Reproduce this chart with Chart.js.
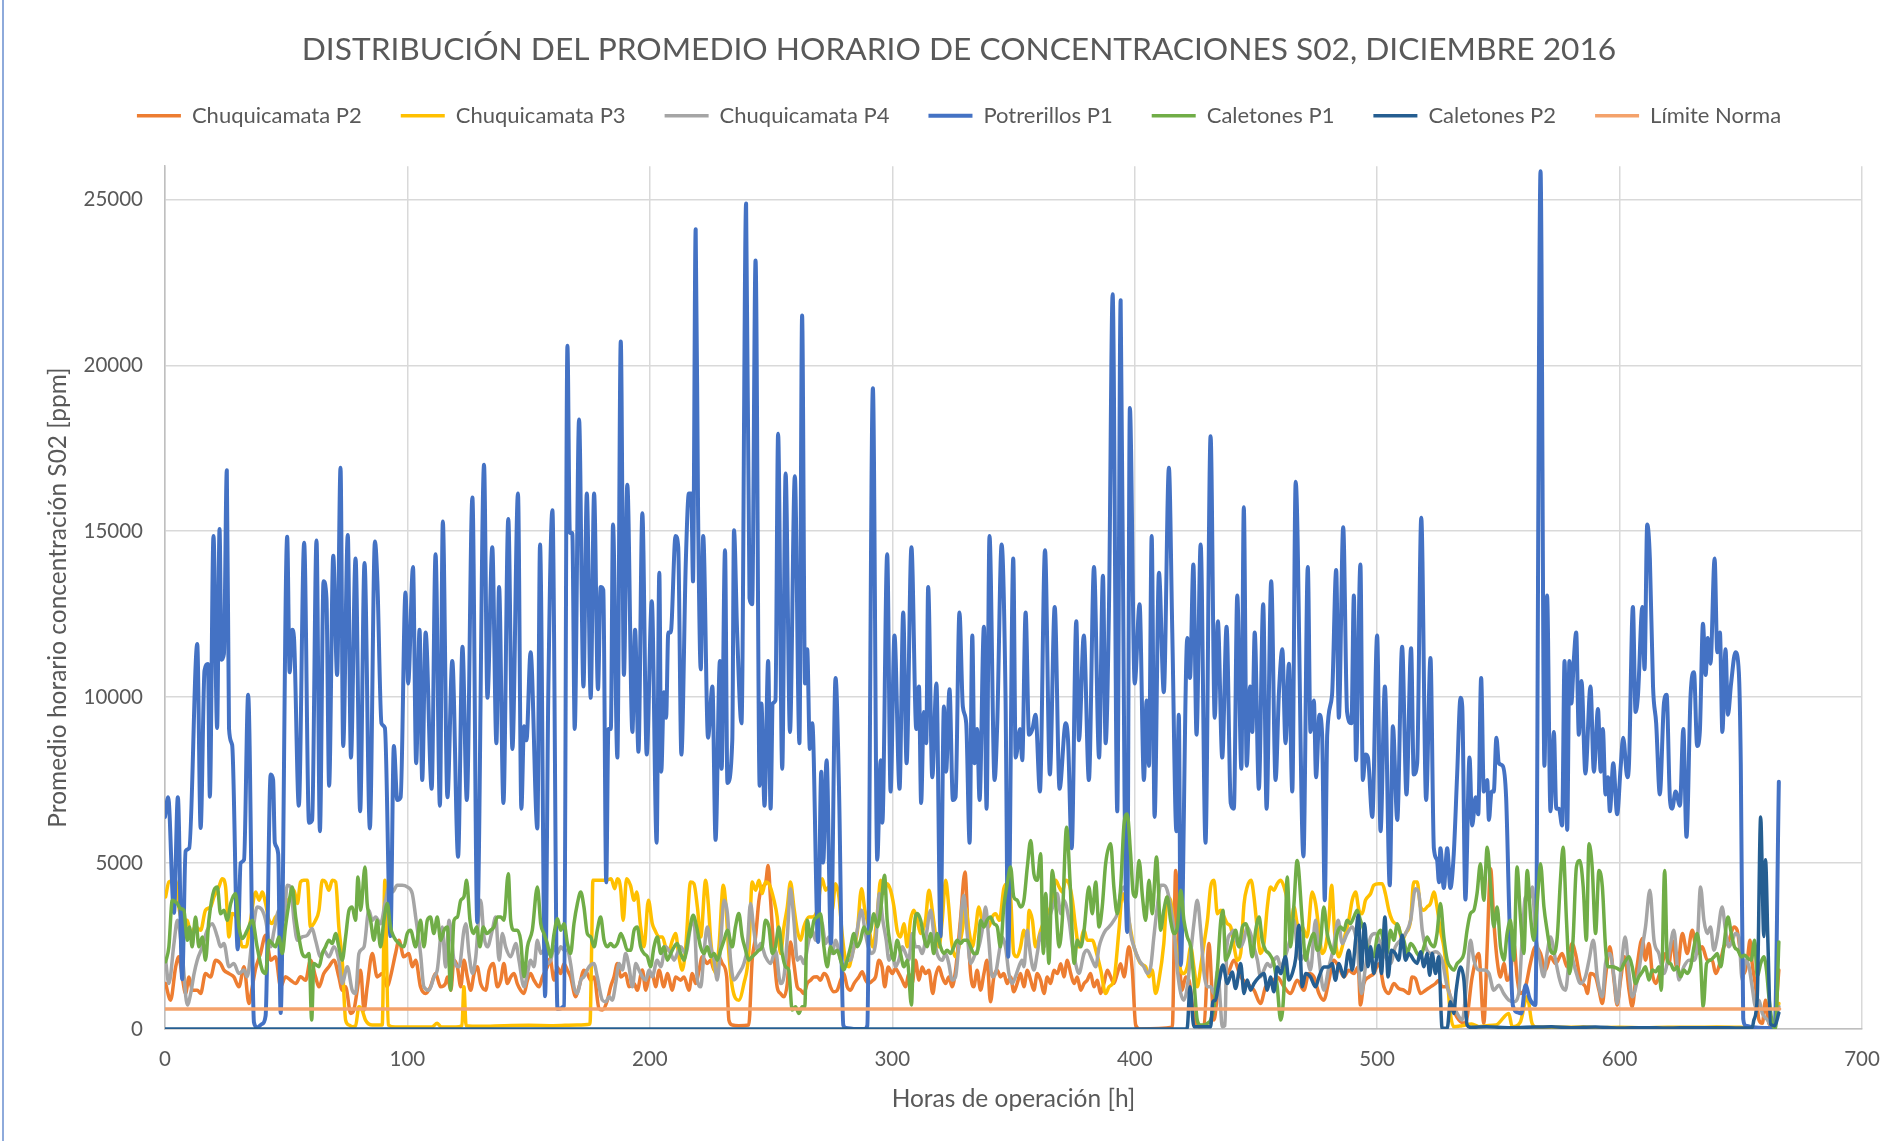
<!DOCTYPE html>
<html lang="es">
<head>
<meta charset="utf-8">
<title>Distribución del promedio horario de concentraciones S02</title>
<script src="https://cdn.jsdelivr.net/npm/chart.js@4/dist/chart.umd.min.js"></script>
<style>
  html, body { margin: 0; padding: 0; background: #ffffff; }
  canvas { display: block; background: #ffffff; }
</style>
</head>
<body>
<canvas id="grafico" width="1898" height="1141"></canvas>
<script>
// Valores: cada punto es [hora de operacion, ppm]
var chuquicamataP2 = [
  [0.25,1370],[2.3,870],[4.4,1875],[5.7,2175],[7.1,1570],[8.5,1070],[9.9,1570],[11.2,1170],[13.3,1170],[14.7,1070],[16.7,1675],[18.8,1570],[20.9,2075],[22.9,1975],[24.3,1775],[26.4,1670],[28.4,1570],[30.5,1270],[32.6,1875],[34.6,770],[36,1270],[37.4,1825],[39.4,2275],[41.5,2825],[43.6,2075],[45.6,2175],[47.7,1270],[49.7,1575],[51.8,1470],[53.9,1370],[55.9,1575],[58,1470],[60,2075],[62.1,1575],[63.5,1270],[65.5,1670],[67.6,1875],[69.7,2075],[71.7,1570],[73.1,1170],[74.5,1270],[76.6,470],[77.9,570],[79.3,1170],[80.7,1770],[82.1,570],[83.4,1270],[85.5,2275],[87.5,1570],[89.6,1670],[91.7,1270],[93,1570],[95.1,2275],[96.5,2675],[98.5,2175],[100.6,2275],[102,1875],[103.4,2075],[105.4,1270],[107.5,1070],[109.5,1270],[111.6,1670],[113.7,1270],[115.7,1370],
  [116.5,1570],[117.9,1170],[119.2,2075],[120.6,1875],[122,1270],[123.3,2075],[124.7,1570],[126.1,1170],[127.5,1670],[128.8,1875],[130.2,1370],[132.3,1170],[133.7,1770],[135.4,1975],[137.1,1270],[138.5,1470],[139.8,1975],[141.2,1370],[142.6,1570],[144,1670],[145.3,1370],[146.7,1170],[148.1,1070],[149.5,1470],[150.8,1670],[152.2,1470],[154.3,1270],[155.7,1570],[157.7,1870],[158.8,2125],[160.5,1470],[161.8,1870],[163.2,1670],[164.6,1970],[166,1770],[167.3,1570],[169.4,970],[170.8,1270],[172.8,1770],[174.2,1670],[175.6,1470],[177,1570],[179,620],[180.4,570],[182.5,870],[183.8,1270],[185.2,1570],[186.6,1975],[188,1570],[190,1670],[191.4,1270],[193.5,1370],[194.8,1170],[196.9,1775],[198.3,1170],[199.7,1570],[201,1670],[202.4,1270],[203.8,1770],[205.8,1270],[207.2,1670],[209.3,1170],[210.6,1570],[212.7,1470],[214.1,1570],[216.1,1170],[217.5,1670],[218.9,1370],[220.3,1770],[221.6,2175],[223.7,1975],[225.1,2075],[226.5,1770],[228.5,2175],[229.9,1970],[231.7,1570],[232.6,270],[234,120],
  [236.7,100],[240.8,120],[242.2,2075],[243.6,2775],[245,3880],[246.3,4280],[247.7,4380],[248.8,4930],[249.8,3880],[251.2,2275],[252.5,1270],[253.9,1070],[255.3,970],[256.7,1370],[258,2625],[259.4,1975],[260.8,1270],[262.2,1170],[263.5,1070],[264.9,1370],[266.3,1470],[267.7,1570],[269,1575],[270.4,1470],[271.8,1675],[273.2,1570],[274.5,1270],[275.9,1120],[277.3,1170],[278.7,1470],[280,1670],[281.4,1270],[282.8,1170],[284.2,1370],[286.2,1570],[287.6,1725],[289,1470],[290.3,1370],[292,1470],[293.1,1570],[294.5,2075],[295.8,1870],[296.9,1270],[298.3,1870],[300,1670],[301.3,1825],[302.7,1670],[304.1,1470],[305.5,1270],[306.8,1670],[308.2,1370],[309.6,2075],[311,1470],[312.3,1870],[313.7,1670],[315.1,1770],[316.7,1070],[317.8,1570],[319.2,1870],[320.6,1570],[322,1370],[323.3,1570],[324.7,1270],[326.1,1770],[328.1,3275],[330,4730],[331.3,2875],[332.3,1670],[333.6,1270],[335,1770],[336.4,1170],[337.8,1670],[339.1,2075],[340.5,820],[341.9,1570],[343.3,1770],[344.6,1570],[346,1670],[347.4,1370],[348.8,1570],[350.1,1120],[351.5,1370],
  [352.9,1670],[354.3,1270],[355.7,1770],[357.1,1470],[358.4,1170],[359.8,1670],[361.2,1470],[362.6,1070],[363.9,1570],[365.3,1370],[366.7,1770],[368.1,1670],[369.5,1970],[370.8,1570],[372.2,2070],[373.6,1670],[375,1370],[376.3,1570],[377.7,1170],[379.1,1370],[380.4,1470],[381.8,1670],[383.2,1270],[384.6,1470],[385.9,1070],[387.3,1370],[388.7,1770],[390.1,1570],[391.4,1370],[392.8,1670],[394.2,1970],[395.6,1570],[397.6,2475],[399,1770],[400.4,120],[402.4,0],[415.5,50],[416.9,4780],[418.3,2270],[419.6,1170],[421,1570],[422.4,1470],[424.4,370],[426.5,70],[428.6,100],[430.6,2575],[432.7,270],[434.3,1170],[436.1,1875],[438.2,1670],[440.9,2075],[443.7,1570],[446.4,1370],[449.2,1170],[451.9,770],[454,1270],[456.1,1370],[458.8,1570],[461.6,1270],[464.3,1070],[467,1470],
  [469.8,1170],[471.8,1670],[473.9,1570],[476,1070],[478,870],[480.1,1470],[482.1,2075],[484.2,1875],[486.3,1570],[488.3,1770],[490.4,1670],[492.2,1870],[493.1,720],[494.5,1370],[496.6,1570],[498.6,1670],[500.7,1970],[502.8,1270],[504.8,1070],[506.9,1370],[508.9,1220],[511,1170],[513.1,1070],[514.4,1570],[515.8,1520],[517.9,1070],[520,1170],[522,1270],[524.1,1370],[525.4,1470],[526.8,1270],[528.9,1270],[531,670],[533.7,270],[536.4,170],[539.2,1570],[541.9,2275],[544,170],[545.4,2475],[546.8,4830],[548.1,3275],[549.5,2075],[550.9,1570],[552.3,1975],[553.6,1470],[555,1670],[556.4,2575],[557.7,1570],[559.1,1070],[561.2,1270],[563.2,1975],[565.3,2475],[567.4,2275],[569.4,1770],[571.5,2175],[573.6,1975],[576.3,2275],[578.4,1870],[580.4,2575],[581.8,2275],[583.9,1470],[585.9,1270],
  [586.7,1070],[588,1670],[590.1,1570],[591.5,1170],[592.9,770],[594.2,1570],[596,2475],[597.7,1470],[599,720],[600.4,1470],[602.1,2175],[603.9,1170],[605.2,670],[607,1770],[609.4,2725],[610.7,2075],[612.1,2575],[613.5,1670],[614.9,1370],[616.9,1770],[619,2275],[620.4,1970],[621.7,2675],[623.8,1770],[625.9,2875],[627.9,2275],[630,2975],[632,2275],[634.1,2475],[636.2,2075],[638.2,2075],[639.6,1675],[641.7,2075],[643,2475],[645.1,2675],[647.2,3075],[648.5,2975],[649.9,2275],[651.3,1670],[652.7,2075],[653.8,2675],[654.7,1970],[656.1,1270],[657.5,270],[658.9,170],[660.2,870],[661.6,170],[663.7,70],[665.7,1775]
];

var chuquicamataP3 = [
  [0.25,3980],[1.6,4430],[4.4,4480],[5.7,3680],[7.1,3280],[9.2,3280],[10.6,2875],[12.6,3080],[14.7,2975],[16.7,3580],[18.8,3680],[20.2,3980],[22.2,4280],[23.6,4530],[25,4280],[26.4,2775],[27.7,3480],[29.8,3280],[31.9,2475],[33.5,2475],[35.3,3280],[37.4,4130],[38.8,3880],[40.1,4130],[41.5,3780],[42.9,3280],[44.2,3180],[45.6,3380],[47.7,3480],[49.7,3780],[51.8,3980],[53.2,4180],[54.6,3780],[55.9,4430],[57.3,4480],[58.7,4480],[60,3080],[62.1,3280],[63.5,3580],[64.9,4480],[66.2,4430],[67.6,4180],[69,4480],[70.4,4430],[71.7,3080],[73.1,2075],[74.5,270],[75.9,120],[77.2,70],[78.6,90],[80,670],[81.3,570],[82.7,270],[85.5,120],[89.6,120],[90.7,4480],[92.1,120],[95,60],[100,60],[105,60],[110,60],[112.3,170],[114,60],
  [116,60],[120,60],[122.5,100],[123.3,1270],[124.2,100],[130,80],[140,100],[150,110],[160,100],[170,120],[175.3,150],[176,2500],[176.5,4480],[180,4480],[182,4480],[184,4530],[185.5,4230],[186.6,4530],[187.3,4480],[188,4180],[189,3275],[190.4,4530],[192,4330],[193.5,3880],[194.6,4130],[196.2,3075],[197.6,2475],[199.4,3880],[201,3175],[202.1,2975],[203.8,2775],[205.2,2775],[206.5,2475],[207.9,2375],[209.3,2675],[210.6,2875],[212,2175],[213.4,1775],[214.8,2475],[216.8,4430],[218.2,4380],[219.6,3680],[221,2775],[223,4480],[224.1,3780],[225.1,2675],[227.1,1675],[228.5,2475],[230.3,4330],[231.3,3780],[232.6,2275],[234,1270],
  [236.7,870],[238.8,1370],[240.8,2275],[242.2,4430],[243.6,4180],[245,4480],[246.3,4080],[247.7,4430],[249.1,4380],[251.2,3880],[252.5,3380],[253.9,2275],[255.3,3075],[256.7,3680],[258,4430],[259.4,3680],[260.8,2975],[262.2,2675],[263.5,3075],[265.6,3375],[267,3375],[269,3580],[271.1,4530],[272.5,4180],[273.8,4280],[275.2,3580],[276.6,4380],[278,3980],[279.3,2875],[280.7,2075],[282.1,1875],[283.5,2275],[285.5,2875],[287.3,4230],[288.7,3580],[290.3,3075],[292,2475],[293.8,3475],[295.2,4480],[296.5,4080],[297.9,4380],[299.3,4180],[300.7,3680],[302,2975],[303.4,2775],[304.8,3175],[306.2,2475],[307.5,3275],[308.9,3580],[310.3,3275],[311.7,2875],[313.7,3275],[315.1,4180],[316.5,3580],[317.8,2875],[319.2,2475],[320.6,3275],[322,4480],[323.3,3680],[324.4,2675],[326.1,2175],[327.5,2475],[328.9,2975],[330.2,3680],[331.6,2975],[333,2475],[334.3,2975],[335.7,3680],[337.1,3275],[338.5,3275],[339.8,3075],[341.2,3375],[342.6,3475],[344.2,3275],[346,4230],[347.4,4380],[348.8,3980],[350.1,2275],[351.5,2175],
  [352.9,2475],[354.3,2975],[355.7,2675],[356.4,3580],[357.8,3275],[359.1,2475],[361.2,2975],[363.3,3375],[365.3,3680],[367.4,4480],[368.8,4280],[370.1,4130],[371.5,4480],[372.9,4380],[374.3,3880],[375.6,3075],[377,2475],[379.1,2975],[380.4,2675],[382.5,2675],[384.3,2275],[386,1775],[388,1070],[389.4,1270],[391.4,1475],[393.5,2975],[394.9,4080],[396.3,3780],[397.6,3275],[399.7,2475],[401.1,2175],[402.4,1975],[404.5,1875],[405.9,1575],[407.2,1775],[408.6,1070],[410,1475],[412,2575],[413.4,3980],[414.8,3880],[416.2,2975],[417.6,2275],[418.9,1775],[420.3,1670],[421.7,1875],[423.1,2475],[424.4,1875],[425.8,1270],[427.2,1870],[428.6,2575],[430,3275],[431.3,4280],[432.7,4480],[434.1,3475],[435.5,3575],[436.9,3375],[438.2,3175],[439.6,3075],[441,2475],[442.3,2075],[443.7,2275],[445.1,3775],[446.4,4280],[448,4480],[449.2,3980],[450.6,2975],[451.9,2275],[453.3,2575],[454.7,3680],[456,4280],[457.4,4180],[458.8,4380],[460.2,4480],[461.6,4280],[462.9,3880],[464.3,3075],[465.7,3675],[467,3175],[468.4,2975],
  [469.1,3075],[471.1,2775],[473.2,4130],[474.6,3780],[476,2975],[477.3,2275],[478.7,2475],[480.1,3275],[481.2,4330],[482.5,2875],[484.2,2175],[485.6,2475],[486.9,2875],[488.3,3275],[489.7,3880],[491.1,4130],[492.5,3580],[493.8,3475],[495.2,3880],[497.3,4080],[498.6,4330],[500.7,4380],[502.1,4380],[503.4,4080],[504.8,3580],[506.2,3275],[507.5,3175],[508.9,3075],[510.3,2675],[511.7,2875],[513.8,3275],[515.1,4430],[516.5,4430],[517.9,3680],[519.3,3580],[520.6,3680],[522,3780],[523.4,4130],[524.7,3680],[526.1,2975],[527.5,2475],[528.9,1575],[530.2,470],[531.6,70],[535,100],[539,150],[542,70],[545,100],[549,120],[554.3,470],[555.7,70],[559,200],[561.9,970],[563.9,170],[566,50],[575,50],[585,60],
  [590,40],[600,50],[610,40],[620,50],[630,50],[640,60],[650,50],[658,40],[663,30],[665.7,770]
];

var chuquicamataP4 = [
  [0.25,2075],[1.6,1370],[3.7,2575],[5.1,3280],[7.1,2275],[9.2,720],[10.6,1070],[12,1670],[13.3,2075],[15.4,2475],[17.4,2975],[19.5,3175],[21.6,2775],[22.9,2475],[24.3,2575],[26.4,1875],[28.4,1975],[30.5,1670],[32.6,1775],[33.9,1575],[36,2775],[38,3680],[40.1,3580],[41.5,3280],[43.6,2475],[45,2975],[47,3580],[49,3280],[50.4,4330],[51.8,4280],[53.2,3280],[54.6,2675],[56.6,2775],[58.7,2825],[60.7,3025],[62.1,2675],[64.2,2175],[65.5,2375],[67.6,2175],[69.7,2475],[71.7,2075],[73.1,1370],[75.2,1875],[77.2,1170],[78.6,1070],[80,2275],[82.1,2475],[84.1,3580],[85.5,3275],[86.9,3375],[88.9,3175],[91,3880],[92.4,4280],[93.8,4130],[95.8,4330],[97.8,4330],[99.9,4280],[102,4080],[103.4,3375],[105.4,2275],[106.8,1270],[108.9,1170],[111,1575],[112.3,1775],[114.4,3075],[115.7,1870],
  [117.2,3275],[119.2,2075],[121.3,1875],[123.3,2975],[124.1,3175],[125.4,2275],[126.8,1675],[128.2,2175],[130.2,3880],[131.6,2775],[133,2475],[135,2975],[136.4,3375],[137.8,2075],[139.2,2875],[140.5,2475],[142.6,2175],[144.7,2575],[146,2075],[148.1,1270],[149.5,1675],[150.8,2075],[152.2,1875],[153.6,2675],[155,2275],[156.3,2375],[157.7,1975],[159.1,2075],[160.5,2475],[161.9,2275],[163.2,2475],[164.6,2375],[166,2375],[167.3,1975],[168.7,1270],[170.1,1070],[171.5,1475],[172.8,1575],[174.9,1875],[176.9,1975],[178.3,1575],[180.4,870],[181.8,820],[183.2,970],[184.5,870],[185.9,1370],[187.3,1975],[188.7,1775],[190,2275],[191.4,1875],[192.8,1270],[194.2,1975],[195.5,1775],[196.9,1575],[198.3,1475],[199.7,1775],[201,1575],[203,2075],[204.5,1875],[206.5,2475],[208.6,2275],[210,2075],[211.3,2275],[212.7,2475],[214.8,2275],[216.8,3075],[218.2,3275],[219.6,1475],[221,1270],[222.3,2275],[223.7,3075],[225.1,2475],[226.5,2075],[227.8,1475],[229.2,2575],[230.6,3880],[232,3475],[233.3,2075],[234.7,1475],
  [236.7,1675],[238.8,1975],[240.2,2475],[241.5,3780],[242.9,2975],[244.3,2375],[245.7,2575],[247.7,2175],[249.8,1975],[251.8,2375],[253.9,1370],[255.3,1575],[256.7,2775],[258,4230],[259.4,3275],[260.8,2075],[262.2,2175],[263.5,1975],[265.6,2675],[267,2975],[268.3,2675],[269.7,3275],[271.1,3175],[272.5,2575],[273.8,2775],[275.2,2275],[276.6,2675],[278.7,2075],[280,1875],[281.4,2075],[282.8,2075],[284.2,2475],[285.5,2975],[287.3,3580],[288.7,2975],[290.1,2475],[291.4,2275],[293.1,2575],[294.7,4080],[296.1,3275],[297.5,2675],[298.6,2075],[300,2275],[301.3,1875],[302.7,2075],[304.1,2475],[305.5,2275],[306.8,2075],[308.2,2875],[309.6,2475],[311,2475],[312.3,2275],[313.7,2675],[315.8,3580],[317.1,2875],[318.5,2275],[320.6,2075],[322,2275],[323.3,1975],[324.7,1475],[326.1,1575],[327.5,2575],[329.5,4030],[330.9,2875],[332.3,1975],[334.3,2275],[335.7,2475],[337.1,2975],[338.5,3680],[339.8,2675],[341.2,1575],[342.6,1675],[344,2275],[345.3,2775],[346.7,2475],[348.1,1675],[349.5,1370],[350.8,1575],[352.2,1875],
  [353.5,2075],[354.3,1875],[355.7,2975],[356.4,2575],[357.1,2175],[358.4,1775],[359.8,2275],[361.2,2875],[362.6,2475],[363.9,2975],[365.3,3475],[366.7,3780],[368,4080],[369.5,3475],[370.8,3880],[372.9,3275],[374.3,2475],[375.6,1975],[377,1675],[379.1,2275],[380.4,2375],[382.5,2075],[383.9,1875],[385.3,2475],[386.6,2775],[388,2975],[389.4,3075],[391.4,3275],[392.8,3475],[394.2,4080],[395.6,4280],[396.9,3880],[398.3,2875],[399.7,2475],[401.8,2075],[403.8,1875],[405.2,1675],[406.6,1875],[407.9,2775],[409.3,3680],[410.7,4330],[412,4330],[413.4,4180],[414.8,3680],[416.2,2975],[417.6,1775],[419,1070],[420.3,870],[421.7,1270],[423.1,2275],[424.4,3175],[425.8,3880],[427.2,2975],[428.6,1675],[430,1270],[431.3,1270],[432.7,1070],[434.3,1775],[435.3,800],[436.1,70],[437.2,100],[438,2475],[439.6,2875],[440.9,2975],[442.3,2575],[443.7,2475],[445,2675],[446.4,3075],[447.8,2875],[449.2,2475],[450.6,2075],[451.9,1575],[453.3,1775],[454.7,1975],[456,1875],[457.4,2075],[458.8,2175],[460.2,1875],[461.6,2075],[462.9,2375],[464.3,2775],[465.7,3275],[467,2475],[468.4,2075],
  [470.5,2275],[472.5,1775],[474.6,3275],[476,2175],[478,1170],[480.1,1875],[482.1,2475],[483.9,3275],[485.6,2575],[487.6,2875],[489.7,3075],[491.8,2475],[493.5,1070],[495.2,1875],[497.3,2775],[499.3,2875],[501.4,2575],[503.4,2175],[505.5,1975],[507.5,2475],[509.6,2675],[511.7,2875],[513.8,3275],[515.8,4230],[517.2,4080],[518.6,2975],[520,2475],[522,2275],[524.1,2325],[525.4,2275],[526.8,2075],[528.9,1270],[530.9,870],[533,470],[535.1,270],[537.1,1575],[538.5,2675],[539.9,2075],[541.9,1775],[544,1775],[546.1,1675],[548.1,1170],[550.2,1320],[552.2,1070],[554.3,870],[556.4,820],[558.4,1070],[559.8,2675],[561.2,3980],[562.6,3880],[564,4280],[565.3,2875],[566.7,2275],[568.7,1575],[570.1,2275],[571.5,2775],[573.6,2075],[575,1575],[576.3,1270],[577.7,1170],[579.7,2275],[581.8,1775],[583.9,1370],[585.9,1575],
  [587.4,2075],[589.2,2675],[590.8,1575],[592.9,970],[594.2,1975],[596,2275],[597.7,1575],[599,770],[600.7,1875],[602.3,2775],[603.9,1675],[605.2,970],[607.3,1475],[609.4,2475],[610.7,3075],[612.5,4180],[614.2,2675],[616.2,2275],[618.3,1675],[620.4,2275],[622.4,2975],[624.5,1475],[626.5,1875],[628.6,2075],[630.7,2075],[632,2475],[633.4,4280],[634.8,3275],[636.2,2875],[637.5,3075],[638.9,2375],[640.3,2775],[642.3,3680],[643.7,2975],[645.1,2475],[646.5,2675],[647.8,2875],[649.2,2775],[650.6,1475],[652,2075],[653.4,1875],[654.7,1270],[656.1,670],[657.5,870],[658.9,470],[661,270],[663,70],[665.7,670]
];

var potrerillosP1 = [
  [0,6390],[1.3,6985],[3.7,3500],[5.3,6985],[7.1,1500],[8.5,5360],[10,5450],[13.3,11600],[14.7,6060],[16.3,10800],[17.7,11000],[18.5,7000],[20,14860],[21.5,9070],[22.5,15070],[23.3,11130],[24.3,11300],[25.5,16840],[26.4,9060],[27.7,8560],[30,2400],[31.2,5000],[32.6,5100],[34.3,10070],[36.7,200],[38,50],[40,150],[41.5,400],[43.6,7670],[44.6,7500],[45.3,5615],[46.7,5270],[47.7,480],[50.4,14830],[51.4,10750],[52.5,12030],[53.2,11800],[55.2,6730],[57.4,14650],[59.4,6215],[60.7,6300],[62.5,14720],[63.9,5960],[65.4,13490],[66.6,12980],[67.7,7330],[69.4,14260],[71,10670],[72.4,16910],[73.5,8525],[75.4,14890],[76.7,8180],[78.6,14175],[80.5,6560],[82.3,14040],[84.5,6045],[86.6,14690],[87.6,13490],[89.3,9210],[90.7,9075],[93,2800],[94.4,8525],[95.8,6900],[97.2,6985],[99.2,13150],[100.3,10410],[102.3,13920],[103.6,8010],[105,12030],[106.1,7500],[107.5,11950],[110,7240],[111.6,14310],[113.4,6730],[114.6,15290],
  [116.5,6985],[118.5,11090],[120.9,5190],[122.7,11520],[124.5,6900],[126.8,16020],[128.8,3220],[131.6,17000],[133,9980],[135,14520],[136.7,8610],[137.8,13320],[139.6,6810],[141.6,15370],[143.3,8440],[145.6,16140],[147,6640],[148.1,9125],[149.1,8700],[150.8,11350],[153.6,6040],[154.7,14600],[156.8,990],[158.1,10070],[159.8,15630],[161.9,600],[164.6,700],[166,20590],[167,14950],[168,14950],[169,9040],[170.8,18370],[172.6,10320],[174,16140],[175.6,9980],[177,16140],[178.6,10240],[179.7,13320],[180.8,13230],[182,4420],[182.9,9040],[183.9,9040],[184.8,15200],[186.6,8180],[188,20715],[189.3,10670],[190.7,16400],[192.8,8950],[193.9,12030],[195.3,8355],[196.9,15540],[198.7,8270],[200.8,12890],[202.8,5615],[203.9,13750],[204.7,7755],[205.8,10150],[206.7,9380],[207.6,11950],[208.6,11950],[210.6,14860],[211.7,14520],[213,8270],[214.8,14000],[216.1,16140],[217.1,16140],[217.8,13490],[218.9,24100],[219.9,15500],[221,10840],[222,14860],[224,8780],[225.8,10320],[227.1,5700],[228.9,11090],[229.6,7840],[231,14430],[232,7410],
  [234,8700],[234.7,15030],[236,11950],[237.8,9210],[239.7,24875],[241.1,12980],[242.2,12800],[243.6,23160],[245.3,7330],[246,9810],[247.3,6730],[248.8,11090],[249.8,6640],[250.7,9810],[251.8,9900],[252.9,17940],[254.6,7840],[256,16740],[257.8,8950],[259.8,16660],[261.7,8610],[262.8,21500],[264,10410],[264.9,11440],[266,8440],[267,9210],[269.4,2620],[270.7,7755],[271.5,5016],[272.9,8100],[274.7,2575],[276.6,10580],[278,7330],[279.8,120],[281,30],[285,0],[288.5,0],[289.7,100],[292,19310],[293.8,5100],[295.2,8100],[295.9,6215],[297.9,14310],[299.3,7155],[300.9,11860],[303,7240],[304.5,12550],[305.9,8010],[307.9,14520],[309.9,9040],[311,10320],[311.9,6810],[313,9550],[314,8610],[314.8,13320],[316.5,7585],[318.2,10410],[319.9,2790],[321.3,9720],[322.2,7755],[323.6,10240],[325,6900],[326.1,6985],[327.7,12550],[329.1,9720],[330.5,9210],[331.9,5615],[333,11860],[333.9,8010],[335,9040],[336,6900],[337.8,12120],[338.9,6640],[340.1,14860],[342.2,7500],[343.3,9210],[345.1,14600],[346.7,10070],[347.8,2175],[349.9,14175],
  [350.9,8180],[352.7,9040],[353.6,8100],[355,12550],[356.4,8870],[357.8,9040],[359.1,9470],[360.9,7155],[363,14430],[365,7670],[367,12720],[369,7240],[371.5,9210],[372.5,8700],[374,5445],[375.9,12290],[377,8700],[379,11860],[381.1,7500],[383.2,13920],[385.3,8180],[386.9,13660],[388,8610],[389.4,12800],[390.9,22140],[392.8,6560],[394.2,21960],[395.8,7000],[396.9,2925],[398,18710],[400,10410],[402,12800],[403.8,7500],[404.9,9900],[405.9,7930],[407,14860],[408.2,6390],[410,13750],[412,10150],[414.1,16910],[415.5,11950],[417.2,5960],[418.2,9470],[419,1925],[421.7,11780],[422.8,10580],[424.2,14000],[425.5,8870],[427.2,14600],[429.2,5615],[431.3,17860],[433,9380],[434.3,12290],[436.1,8180],[437.9,12120],[439.6,6810],[440.9,6640],[442.3,13060],[444,7840],[445,15720],[446.2,7930],[447.6,10320],[448.5,8950],[449.5,11950],[451.2,7240],[453,12800],[454.4,6640],[456.3,13490],[458.1,7500],[459.5,10150],[460.9,11440],[462.2,8610],[463.6,11010],[465,7155],[466.4,16490],
  [469.6,5200],[471.4,13920],[472.5,8950],[473.9,9900],[474.8,7585],[476.2,9470],[477.3,8870],[478.4,3880],[479.4,8870],[481.4,10070],[483.1,13830],[484.2,9380],[486,15120],[487.6,9550],[489.4,9210],[490.4,13060],[491.3,8100],[493.1,14000],[494.1,7500],[495.2,8270],[496.2,8180],[498,6390],[500,11860],[501.4,5960],[503.2,10320],[505.2,4330],[506.5,9125],[508.3,6300],[510.3,11520],[512.1,7070],[514,11470],[515.1,7670],[516.5,8010],[518.2,15410],[520.2,6900],[522,11180],[523.4,5445],[524.7,5100],[525.5,4420],[526.1,5445],[527.5,4250],[528.9,5445],[530.2,4250],[531.6,5270],[533,7670],[534.4,9980],[535.1,9720],[536.4,3900],[538.1,8180],[539.2,6130],[540.6,6985],[541.7,6470],[542.9,10580],[544,7155],[545.4,7500],[546.1,6300],[547.2,7155],[548.1,7155],[549.2,8780],[550.2,8010],[551.8,7930],[553.2,6985],[554.5,3500],[556,700],[558,500],[559.5,470],[561.2,1320],[563,900],[565.3,720],[567.4,25850],[569,7930],[570.1,13060],[571.5,6560],[572.9,8950],[573.9,6640],[575,6640],[576.3,6130],[577.3,11090],[578.4,6000],[579.3,11090],[580.1,9810],[581.1,11090],[582.1,11950],[583.2,8870],[584.3,10490],[585.9,7700],
  [588,10320],[589.4,7755],[591.1,9640],[592.2,7755],[593.1,9040],[594.2,7070],[595.2,7585],[596,6560],[597.4,8010],[599,6470],[600.4,7840],[601.5,8780],[603.2,7585],[603.9,8010],[605.5,12720],[606.6,9550],[607.6,10070],[609.4,12720],[610.3,10840],[611.4,15200],[612.5,14175],[613.8,10320],[615.1,9210],[616.6,7070],[618.3,9810],[619.4,10070],[620.8,6900],[621.7,6640],[623.1,7155],[624.9,6730],[626.3,9040],[627.6,5790],[629.3,10070],[630.7,10750],[632,8525],[633.1,8950],[634.4,12210],[635.5,10670],[636.4,11780],[637.5,11010],[639.2,14175],[640.3,11350],[641.4,11950],[642.4,8950],[643.7,11440],[644.7,9470],[646,10410],[647.8,11350],[649.2,10750],[650,8000],[651,300],[652,100],[655,50],[660,30],[664,50],[665.7,7450]
];

var caletonesP1 = [
  [0.25,2025],[1.6,2475],[3,3880],[5.1,3780],[6.4,3630],[7.8,3580],[9.2,2675],[10.1,3075],[11.2,2475],[12.6,3375],[14,2475],[15.4,2775],[16.7,2075],[18.1,3275],[20.2,4180],[21.6,4280],[22.9,3475],[24.3,3580],[25.7,3275],[27.1,3780],[29.1,4080],[30.5,3075],[31.9,2725],[33.9,2975],[36,3275],[38,2475],[40.1,1775],[41.5,1675],[42.9,2675],[44.2,2575],[45.6,2475],[47,2775],[48.4,2275],[49.7,3075],[51.1,3780],[52.5,4280],[53.9,3375],[55.2,2775],[56.6,2275],[58,2175],[59.4,2275],[60.5,270],[61.4,1975],[63.5,1875],[64.9,2275],[66.2,2475],[67.6,2675],[69,2575],[70.4,2875],[71.7,2475],[73.1,2075],[74.5,2775],[75.9,3580],[77.2,3680],[78.6,3275],[79.6,4580],[80.7,3580],[82.5,4880],[83.4,3780],[84.8,3275],[86.2,2675],[87.5,3275],[88.9,2475],[90.3,3275],[91.7,3780],[93,3075],[94.4,2775],[96.5,2575],[98.5,2475],[99.9,2875],[101.3,2975],[103.4,2475],[105.4,3275],[106.8,2475],[108.2,3275],[109.5,3375],[110.9,2875],[112.3,3375],[113.7,2675],[115.1,2975],
  [116.5,3075],[117.8,1170],[119.2,3275],[120.6,3375],[122,3880],[123.3,3980],[124.4,4480],[125.8,3275],[127.2,2875],[128.6,3075],[129.9,2475],[131.3,3075],[132.7,2875],[134.3,2975],[135.7,3075],[137.1,3375],[138.5,3375],[139.8,3275],[141.6,4680],[142.6,3275],[144,2975],[145.3,2975],[146.7,2675],[148.1,1575],[149.5,2475],[151.5,2975],[153.6,4280],[155,3175],[156.3,2875],[157.7,2575],[159.1,2175],[160.5,2875],[161.9,3325],[163.2,2975],[164.6,3175],[166,2575],[167.3,2275],[168.7,3175],[170.1,3780],[171.5,4130],[172.8,3680],[174.2,2875],[175.6,2775],[177,2475],[178.3,2975],[179.7,3375],[181.1,2675],[182.5,2475],[183.8,2575],[185.2,2475],[186.6,2575],[188,2875],[189.3,2675],[190.7,2375],[192.1,2375],[193.5,2975],[194.8,3075],[196.2,2475],[197.6,2275],[199,2175],[200.3,1875],[201.7,2475],[203.1,2775],[204.5,2275],[205.8,2475],[207.2,2075],[208.6,2275],[210,2475],[211.3,2575],[212.7,2275],[214.1,2075],[216.1,2875],[217.9,3425],[219.3,3075],[220.9,2475],[222.3,2275],[223.7,2475],[225.1,2175],[226.5,2275],[227.8,2075],[229.2,2375],[230.6,2675],[232,2975],
  [234,2475],[235.3,3075],[236.7,3480],[238.1,2775],[239.5,2375],[240.8,2075],[242.2,2175],[243.6,2275],[245,2375],[246.3,2475],[247.7,3275],[249.1,3075],[250.5,2275],[251.8,2475],[253.2,3075],[254.6,2275],[256,1875],[257.3,1775],[258.7,570],[260.1,670],[261.5,470],[262.8,670],[263.9,670],[264.9,3275],[266.3,2775],[267.7,3275],[269,3375],[270.4,3475],[271.8,2475],[273.2,1875],[274.5,2475],[275.9,2275],[277.3,2375],[278.7,2075],[280,1775],[281.4,2075],[282.8,2475],[284.2,2875],[285.5,2475],[286.9,2675],[288.3,3075],[289.7,2875],[291.1,2975],[292.4,3475],[293.8,3075],[295.2,3580],[296.8,4630],[297.9,3275],[299.3,2475],[300.6,2075],[302,2675],[303.4,2275],[304.8,1875],[306.2,2075],[307.9,720],[308.9,2875],[310.3,3480],[311.7,3275],[313,2775],[314.4,2475],[315.8,2875],[317.1,2275],[318.5,2875],[319.9,2475],[321.3,2275],[322.6,2375],[324,2275],[325.4,2475],[326.8,2675],[328.1,2575],[329.5,2675],[330.9,2675],[332.3,2475],[333.6,2275],[335,2275],[336.4,3275],[337.8,3075],[339.1,3275],[340.5,3375],[341.9,3175],[343.3,3075],[344.6,2475],[346,3680],[347.4,4380],[348.8,4880],[350.1,3980],[351.5,3880],
  [352.9,3680],[354.3,3880],[355.7,4880],[357.1,5680],[358.4,4680],[359.8,4480],[361.2,5280],[362.3,2275],[363.3,4080],[364.6,1975],[366,4780],[367.4,3775],[368.8,2475],[370.1,3275],[371.9,6080],[373.3,4480],[375,1975],[376.3,2675],[377.7,2475],[379.1,2975],[381.1,4280],[382.5,3475],[383.9,4430],[385.3,3075],[386.6,3680],[388,4980],[390.1,5580],[391.4,4280],[392.8,3475],[394.2,4280],[395.6,6180],[396.9,6480],[398.3,5280],[399.4,4080],[400.4,3980],[401.8,5080],[403.2,3980],[404.5,3275],[405.9,4480],[407.2,3475],[409,5180],[410.7,2975],[412,3580],[413.4,3980],[414.8,3275],[416.2,2875],[417.6,3075],[419,4180],[420.3,3275],[421.7,2775],[423.1,2475],[424.4,1475],[425.8,270],[427.2,120],[428.6,120],[430,170],[431.3,270],[432.7,670],[434.1,1775],[435.5,3275],[436.4,3580],[437.5,2075],[438.9,2275],[440.3,2675],[441.6,2975],[443,2475],[444.4,3075],[445.8,3175],[447.2,2775],[448.5,2175],[449.9,2975],[451.3,3375],[452.6,2675],[454,2375],[455.4,2275],[457.4,1975],[458.8,1270],[460.2,270],[461.6,1270],[462.9,4580],[464.3,2475],[465.7,3775],[467,5080],
  [469.1,3275],[470.5,2075],[471.8,2475],[473.9,2875],[475.3,2375],[476.6,2575],[478,3680],[479.4,2875],[480.8,2475],[482.1,2275],[483.5,2875],[484.9,3075],[486.3,2975],[487.6,3275],[489,3175],[490.4,3375],[491.8,3580],[493.1,3275],[494.5,2975],[495.9,2475],[497.3,2275],[498.6,2175],[500,2775],[501.4,2975],[502.8,2575],[504.1,2275],[505.5,2975],[506.9,2675],[508.3,3175],[509.6,2875],[511,2675],[512.4,2275],[513.8,2575],[515.1,2475],[516.5,2275],[517.9,2175],[519.3,2475],[520.6,2775],[522,2575],[523.4,2475],[524.7,2875],[526.1,3780],[527.5,2775],[528.9,2075],[530.2,1875],[531.6,1775],[533,1975],[534.4,2075],[535.8,2275],[537.1,2975],[538.5,3480],[539.9,3580],[541.2,4080],[542.6,4980],[544,3880],[545.4,5480],[546.8,4280],[548.1,3075],[549.5,3680],[550.9,2475],[552.3,2075],[553.6,2875],[555,3275],[556.4,2075],[557.7,4880],[559.1,3375],[560.5,2275],[561.9,4780],[563.3,3375],[564.6,2675],[566,3780],[567.4,4980],[568.8,3680],[570.1,2975],[571.5,2375],[572.9,2275],[574.3,2775],[575.6,4480],[576.7,5480],[578.1,3275],[579.4,1675],[580.8,2675],[582.2,4880],[583.6,5080],[585,4280],[586.3,2675],
  [587.4,5580],[588.7,4880],[590.1,2875],[591.5,4780],[592.9,4280],[594.2,2475],[595.2,1875],[597,1875],[599,1825],[600.4,1775],[601.8,1975],[603.9,2175],[605.2,1875],[606.6,1370],[608,1575],[609.4,1725],[610.7,1875],[612.1,1475],[613.5,1775],[614.9,1725],[616.2,1875],[617.2,1170],[618.6,4780],[619.7,2075],[621,1975],[622.4,1775],[623.8,1875],[625.2,1575],[626.5,1775],[627.9,1675],[629.3,1875],[630.7,2475],[632,2875],[633.4,2075],[634.5,670],[635.9,1975],[637.5,2075],[639,2175],[640.3,2275],[641.7,1875],[643,2475],[644.7,3375],[646.1,2875],[647.4,2475],[648.8,2375],[650.2,2175],[651.6,2225],[653,2125],[654.3,2075],[655.7,2675],[656.8,1575],[658.2,1975],[659.5,2175],[660.6,1775],[661.6,970],[663,170],[664.3,20],[665.7,2625]
];

var caletonesP2 = [
  [0,0],[421,0],[421.7,50],[422.8,1270],[424.4,70],[431.3,70],[432.2,820],[433.3,870],[434.7,1370],[436.4,1925],[438.2,1370],[440.2,1720],[441.6,1220],[443.7,1975],[445.1,1070],[446.4,1475],[447.8,1170],[449.2,1370],[451.3,1570],[453.3,1670],[454.7,1170],[456,1570],[457.4,1120],[458.8,1870],[460.2,1670],[462.2,2175],[463.6,1475],[465,1670],[466.4,2125],[467.7,3125],
  [469.1,1270],[470.5,1670],[472.5,1570],[474.6,1270],[476,1570],[478,1870],[480.1,1870],[481.4,1975],[482.8,1470],[484.2,1975],[486.3,1570],[488.3,2375],[489.7,1775],[491.1,2675],[492.2,3430],[493.5,1775],[494.8,3175],[496.2,1875],[497.3,2475],[498.6,1675],[500.7,2525],[501.8,1675],[503.2,3375],[504.5,1570],[505.9,2375],[507.5,2275],[508.9,2075],[510.3,2825],[511.7,2075],[513.1,2275],[515.1,2075],[516.5,1975],[517.9,2325],[519.3,1875],[520.6,2275],[521.7,1620],[522.7,2275],[524.1,1670],[525.4,2175],[526.8,20],[528.9,20],[530.2,820],[531.6,470],[532.6,1170],[534.4,1870],[535.8,1470],[537.1,120],[538.5,50],
  [545,70],[555,40],[565,60],[572,70],[580,40],[590,60],[600,30],[610,40],[620,30],[630,40],[640,40],[650,30],[654.7,40],[655.4,270],[656.8,970],[658.2,6385],[659.5,2790],[660.2,5100],[661.2,2600],[662.3,140],[664,100],[665.7,480]
];

var limiteNorma = [[0, 600], [666, 600]];

var ticksHoras = [0, 100, 200, 300, 400, 500, 600, 700];
var ticksPpm = [0, 5000, 10000, 15000, 20000, 25000];

var colorTexto = '#595959';
var fuente = 'Lato, "Open Sans", sans-serif';

function serie(nombre, datos, color, orden, ancho) {
    return {
        label: nombre,
        data: datos,
        borderColor: color,
        backgroundColor: color,
        borderWidth: ancho,
        pointRadius: 0,
        pointHoverRadius: 0,
        cubicInterpolationMode: 'monotone',
        borderJoinStyle: 'round',
        borderCapStyle: 'round',
        fill: false,
        order: orden
    };
}

// Deja espacio entre la leyenda y el area del grafico
var margenLeyenda = {
    id: 'margenLeyenda',
    beforeUpdate: function (chart) {
        var leyenda = chart.legend;
        if (!leyenda || leyenda._conMargen) return;
        var ajusteOriginal = leyenda.fit;
        leyenda.fit = function () {
            ajusteOriginal.call(leyenda);
            leyenda.height += 29.5;
        };
        leyenda._conMargen = true;
    }
};

// Linea del marco a la izquierda
var marco = {
    id: 'marco',
    afterDraw: function (chart) {
        var ctx = chart.ctx;
        ctx.save();
        ctx.strokeStyle = '#8EAADB';
        ctx.lineWidth = 2;
        ctx.beginPath();
        ctx.moveTo(3, 0);
        ctx.lineTo(3, chart.height);
        ctx.stroke();
        ctx.restore();
    }
};

var ctx = document.getElementById('grafico').getContext('2d');
var chart = new Chart(ctx, {
    type: 'line',
    data: {
        datasets: [
            serie('Chuquicamata P2', chuquicamataP2, '#ED7D31', 7, 3.5),
            serie('Chuquicamata P3', chuquicamataP3, '#FFC000', 6, 3.5),
            serie('Chuquicamata P4', chuquicamataP4, '#A5A5A5', 5, 3.5),
            serie('Potrerillos P1', potrerillosP1, '#4472C4', 4, 4),
            serie('Caletones P1', caletonesP1, '#70AD47', 3, 3.5),
            serie('Caletones P2', caletonesP2, '#255E91', 2, 3.5),
            serie('Límite Norma', limiteNorma, '#F4A26B', 1, 3.5)
        ]
    },
    options: {
        responsive: false,
        animation: false,
        events: [],
        layout: { padding: { left: 20, right: 0, top: 0, bottom: 0 } },
        plugins: {
            title: {
                display: true,
                text: 'DISTRIBUCIÓN DEL PROMEDIO HORARIO DE CONCENTRACIONES S02, DICIEMBRE 2016',
                color: colorTexto,
                font: { family: fuente, size: 31.7, weight: 'normal', lineHeight: 1 },
                padding: { top: 34, bottom: 0 }
            },
            legend: {
                position: 'top',
                labels: {
                    color: colorTexto,
                    font: { family: fuente, size: 22 },
                    usePointStyle: true,
                    pointStyle: 'line',
                    pointStyleWidth: 44,
                    padding: 39,
                    sort: function (a, b) { return a.datasetIndex - b.datasetIndex; }
                }
            },
            tooltip: { enabled: false }
        },
        scales: {
            x: {
                type: 'linear',
                min: 0,
                max: 700,
                afterBuildTicks: function (scale) {
                    scale.ticks = ticksHoras.map(function (v) { return { value: v }; });
                },
                afterFit: function (scale) {
                    scale.height = 112;
                    scale.paddingRight = 36;
                },
                grid: { color: '#D9D9D9', lineWidth: 1.5, drawTicks: false },
                border: { color: '#BFBFBF', width: 1.5 },
                ticks: {
                    color: colorTexto,
                    font: { family: fuente, size: 20.5 },
                    padding: 18,
                    maxRotation: 0,
                    callback: function (v) { return String(v); }
                },
                title: {
                    display: true,
                    text: 'Horas de operación [h]',
                    color: colorTexto,
                    font: { family: fuente, size: 24.5 },
                    padding: { top: 0, bottom: 27.3 }
                }
            },
            y: {
                min: 0,
                max: 26000,
                afterBuildTicks: function (scale) {
                    scale.ticks = ticksPpm.map(function (v) { return { value: v }; });
                },
                afterFit: function (scale) {
                    scale.width = 145;
                },
                grid: { color: '#D9D9D9', lineWidth: 1.5, drawTicks: false },
                border: { color: '#BFBFBF', width: 1.5 },
                ticks: {
                    color: colorTexto,
                    font: { family: fuente, size: 20.5 },
                    padding: 22,
                    callback: function (v) { return String(v); }
                },
                title: {
                    display: true,
                    text: 'Promedio horario concentración S02 [ppm]',
                    color: colorTexto,
                    font: { family: fuente, size: 24.5 },
                    padding: { top: 23.3, bottom: 0 }
                }
            }
        }
    },
    plugins: [margenLeyenda, marco]
});
</script>
</body>
</html>
